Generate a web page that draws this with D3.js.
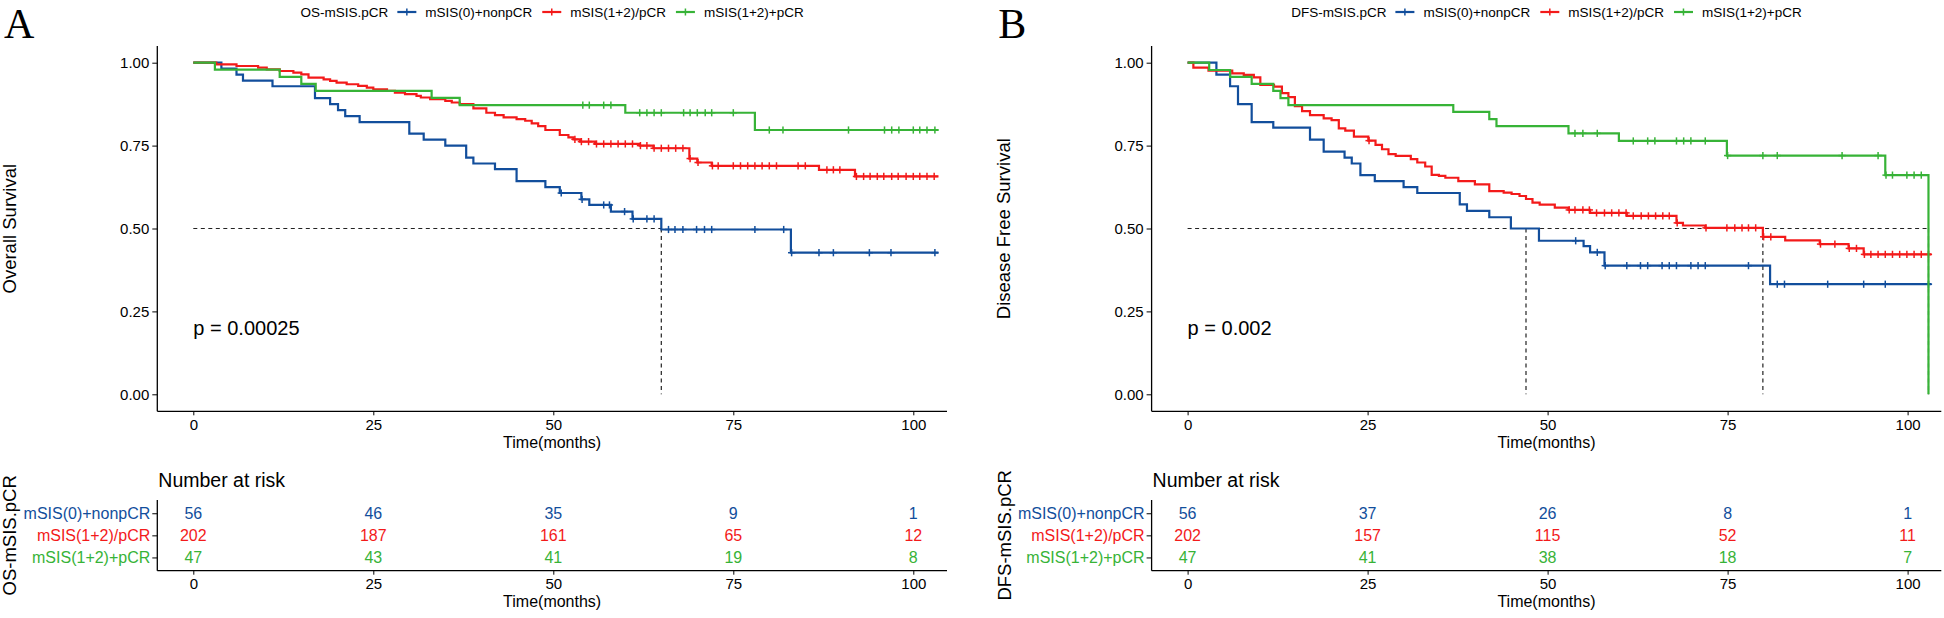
<!DOCTYPE html>
<html><head><meta charset="utf-8">
<script src="https://cdn.jsdelivr.net/npm/d3@7"></script>
<style>
body{margin:0;background:#fff}
svg{display:block}
text{font-family:"Liberation Sans",Arial,Helvetica,sans-serif}
</style>
</head><body>
<svg id="c" width="1944" height="618"></svg>
<script>
// ---------------- DATA ----------------
const groups = ["mSIS(0)+nonpCR", "mSIS(1+2)/pCR", "mSIS(1+2)+pCR"];
const colors = ["#124E9C", "#F31A1A", "#37B337"];
const timeTicks = [0, 25, 50, 75, 100];
const survTicks = [0, 0.25, 0.5, 0.75, 1];

// Panel A : overall survival  ([time, survival after the step])
const osBlueSteps = [[3.9,0.982],[6.0,0.964],[6.9,0.946],[11.0,0.929],[16.9,0.893],[19.0,0.875],[20.1,0.857],[21.1,0.839],[23.1,0.821],[30.0,0.786],[32.0,0.768],[35.0,0.750],[37.9,0.714],[38.9,0.696],[41.9,0.679],[44.9,0.643],[48.9,0.625],[50.9,0.607],[53.9,0.588],[55.0,0.571],[58.0,0.551],[61.0,0.529],[65.0,0.497],[83.0,0.427]];
const osBlueCensor = [51.1,54.0,57.0,57.8,59.9,61.1,63.0,64.0,66.0,66.9,68.0,69.9,71.0,72.0,78.0,82.0,83.1,86.9,88.9,93.9,96.9,103.0];
const osBlueEnd = 103.5;
const osRedSteps = [[3.2,0.995],[6.0,0.990],[9.0,0.985],[10.2,0.980],[12.0,0.975],[13.9,0.970],[15.0,0.965],[16.0,0.955],[18.1,0.950],[19.0,0.945],[19.9,0.940],[21.3,0.935],[22.9,0.930],[24.1,0.925],[25.0,0.920],[26.9,0.915],[28.0,0.910],[29.4,0.905],[31.0,0.900],[31.6,0.895],[32.9,0.890],[35.0,0.885],[35.9,0.880],[37.0,0.875],[38.9,0.862],[40.7,0.849],[41.9,0.842],[43.1,0.835],[44.9,0.830],[46.1,0.825],[47.0,0.817],[47.9,0.809],[48.9,0.797],[50.9,0.782],[52.1,0.775],[52.8,0.769],[53.7,0.762],[55.8,0.755],[62.0,0.750],[63.9,0.742],[68.9,0.711],[70.0,0.699],[72.0,0.689],[86.9,0.677],[91.9,0.657]];
const osRedCensor = [53.0,53.9,54.9,56.0,57.0,58.0,59.0,60.0,61.0,62.1,63.0,64.0,65.0,66.0,67.0,68.0,69.0,70.1,72.1,72.9,75.0,76.0,77.0,78.0,79.0,80.0,81.0,84.0,85.0,88.0,88.9,89.8,92.1,93.1,94.0,95.0,95.9,97.0,97.9,99.0,100.0,100.9,101.9,102.9];
const osRedEnd = 103.5;
const osGreenSteps = [[3.0,0.979],[12.0,0.957],[15.0,0.936],[17.0,0.915],[33.1,0.894],[37.0,0.872],[60.0,0.849],[78.0,0.797]];
const osGreenCensor = [54.1,55.0,57.0,58.0,62.0,63.0,64.0,65.0,68.1,69.0,70.0,71.1,72.0,75.0,80.0,81.9,91.0,96.0,97.0,98.0,100.0,100.9,101.9,103.0];
const osGreenEnd = 103.5;
const osMedians = [65.0];
const osRisk = [[56,46,35,9,1],[202,187,161,65,12],[47,43,41,19,8]];
const osPval = "p = 0.00025";

// Panel B : disease free survival
const dfsBlueSteps = [[4.0,0.964],[5.9,0.929],[7.0,0.875],[8.9,0.821],[11.9,0.804],[17.0,0.768],[18.9,0.732],[21.8,0.714],[22.8,0.696],[24.0,0.661],[26.0,0.643],[30.0,0.625],[31.9,0.607],[37.8,0.573],[38.8,0.553],[41.9,0.534],[44.9,0.500],[48.8,0.463],[55.0,0.447],[55.9,0.428],[57.9,0.388],[80.9,0.332]];
const dfsBlueCensor = [53.9,56.9,58.0,61.0,62.9,63.9,65.9,66.9,67.9,69.9,70.9,71.9,77.9,81.9,82.9,88.9,93.9,96.9,102.9];
const dfsBlueEnd = 103.3;
const dfsRedSteps = [[0.8,0.985],[2.9,0.976],[6.2,0.968],[7.8,0.963],[9.2,0.956],[10.1,0.933],[12.0,0.928],[13.1,0.908],[14.0,0.896],[14.9,0.869],[15.9,0.854],[17.0,0.842],[18.9,0.832],[20.0,0.827],[21.0,0.802],[21.9,0.795],[23.1,0.777],[25.1,0.765],[26.1,0.752],[27.0,0.739],[27.9,0.724],[28.9,0.719],[31.0,0.709],[31.9,0.699],[33.0,0.687],[33.9,0.662],[34.9,0.659],[35.8,0.653],[37.6,0.643],[39.9,0.633],[41.9,0.613],[43.9,0.608],[45.0,0.604],[46.1,0.598],[47.0,0.589],[47.9,0.578],[48.9,0.572],[51.0,0.563],[52.9,0.556],[55.9,0.547],[61.0,0.538],[67.9,0.517],[68.8,0.509],[71.9,0.502],[79.9,0.475],[83.0,0.464],[87.8,0.453],[91.8,0.440],[93.9,0.422]];
const dfsRedCensor = [25.2,53.0,53.8,54.9,55.8,56.8,57.9,58.9,59.9,60.9,61.9,63.0,64.0,65.0,66.0,66.9,68.0,72.0,74.9,76.0,77.0,77.9,78.9,80.0,81.0,87.9,89.9,91.9,92.9,94.0,94.9,95.9,96.9,97.9,98.9,99.9,100.9,101.9,102.9];
const dfsRedEnd = 103.3;
const dfsGreenSteps = [[3.0,0.978],[5.9,0.957],[8.9,0.936],[11.9,0.915],[12.9,0.893],[14.0,0.872],[36.9,0.852],[41.9,0.830],[42.9,0.809],[52.9,0.787],[59.9,0.764],[74.9,0.720],[96.9,0.661],[102.9,0]];
const dfsGreenCensor = [53.8,54.9,56.9,61.9,63.9,64.9,67.9,68.9,69.9,71.9,75.0,79.9,81.9,90.9,95.9,97.0,97.9,99.9,100.9,101.9];
const dfsGreenEnd = 102.9;
const dfsMedians = [47.0, 79.9, 102.9];
const dfsRisk = [[56,37,26,8,1],[202,157,115,52,11],[47,41,38,18,7]];
const dfsPval = "p = 0.002";

// ---------------- DRAW ----------------
const svg = d3.select("#c");
const FONT = '"Liberation Sans",Arial,Helvetica,sans-serif';

function survAt(steps, t){
  let s = 1;
  for (const [ts, v] of steps) { if (ts <= t) s = v; else break; }
  return s;
}

function drawPanel(cfg){
  const g = svg.append("g").attr("transform", `translate(${cfg.dx},0)`);
  const axisLeft = 157.3, axisRight = 947;
  const x = d3.scaleLinear().domain([0, 100]).range([193.3, 913.3]);
  const y = d3.scaleLinear().domain([0, 1]).range([394.3, 62.7]);
  const yTop = y(1.05), yBot = 411.3;

  // panel letter
  g.append("text").attr("x", 4).attr("y", 37.5)
    .style("font-family", '"Liberation Serif","Times New Roman",serif')
    .style("font-size", "42px").style("fill", "#000").text(cfg.letter);

  // legend
  const leg = g.append("g");
  const legY = 12;
  const lt = leg.append("text").attr("y", legY).attr("dy", "0.35em")
    .style("font-size", "13.5px").style("fill", "#000").text(cfg.legendTitle);
  let cx = lt.node().getComputedTextLength() + 9;
  groups.forEach((name, i) => {
    const k = leg.append("g").attr("transform", `translate(${cx},${legY})`);
    k.append("line").attr("x1", 0).attr("x2", 19).attr("y1", 0).attr("y2", 0)
      .attr("stroke", colors[i]).attr("stroke-width", 2.2);
    k.append("line").attr("x1", 9.5).attr("x2", 9.5).attr("y1", -3.5).attr("y2", 3.5)
      .attr("stroke", colors[i]).attr("stroke-width", 1.5);
    cx += 19 + 9;
    const tt = leg.append("text").attr("x", cx).attr("y", legY).attr("dy", "0.35em")
      .style("font-size", "13.5px").style("fill", "#000").text(name);
    cx += tt.node().getComputedTextLength() + 10;
  });
  const legW = cx - 10;
  leg.attr("transform", `translate(${(axisLeft + axisRight) / 2 - legW / 2},0)`);

  // axes main
  const ax = g.append("g");
  ax.append("line").attr("x1", axisLeft).attr("x2", axisLeft).attr("y1", yTop).attr("y2", yBot)
    .attr("stroke", "#000").attr("stroke-width", 1.3);
  ax.append("line").attr("x1", axisLeft).attr("x2", axisRight).attr("y1", yBot).attr("y2", yBot)
    .attr("stroke", "#000").attr("stroke-width", 1.3);
  const yAxis = d3.axisLeft(y).tickValues(survTicks).tickFormat(d3.format(".2f")).tickSize(5).tickPadding(3);
  const yg = g.append("g").attr("transform", `translate(${axisLeft},0)`).call(yAxis);
  yg.select(".domain").remove();
  yg.selectAll("text").style("font-size", "15px").style("font-family", FONT).style("fill", "#000");
  yg.selectAll("line").attr("stroke", "#000");
  const xAxis = d3.axisBottom(x).tickValues(timeTicks).tickSize(4).tickPadding(4);
  const xg = g.append("g").attr("transform", `translate(0,${yBot})`).call(xAxis);
  xg.select(".domain").remove();
  xg.selectAll("text").style("font-size", "15px").style("font-family", FONT).style("fill", "#000");
  xg.selectAll("line").attr("stroke", "#000");

  g.append("text").attr("x", (axisLeft + axisRight) / 2).attr("y", 448)
    .attr("text-anchor", "middle").style("font-size", "16px").style("fill", "#000").text("Time(months)");
  g.append("text").attr("transform", `translate(9.5,${(yTop + yBot) / 2}) rotate(-90)`)
    .attr("text-anchor", "middle").attr("dy", "0.35em").style("font-size", "18.5px").style("fill", "#000").text(cfg.yTitle);

  // median lines
  const maxMed = d3.max(cfg.medians);
  const med = g.append("g").attr("stroke", "#222").attr("stroke-width", 1.2).attr("stroke-dasharray", "4,3.5").attr("fill", "none");
  med.append("line").attr("x1", x(0)).attr("x2", x(maxMed)).attr("y1", y(0.5)).attr("y2", y(0.5));
  cfg.medians.forEach(m => {
    med.append("line").attr("x1", x(m)).attr("x2", x(m)).attr("y1", y(0.5)).attr("y2", y(0));
  });

  // curves
  const line = d3.line().x(d => x(d[0])).y(d => y(d[1])).curve(d3.curveStepAfter);
  cfg.series.forEach((s, i) => {
    const pts = [[0, 1], ...s.steps];
    const last = s.steps[s.steps.length - 1];
    if (s.end > last[0]) pts.push([s.end, last[1]]);
    g.append("path").attr("d", line(pts)).attr("fill", "none")
      .attr("stroke", colors[i]).attr("stroke-width", 2.2).attr("stroke-linejoin", "miter");
    const cg = g.append("g").attr("stroke", colors[i]).attr("stroke-width", 1.5);
    s.censor.forEach(t => {
      const cxp = x(t), cyp = y(survAt(s.steps, t));
      cg.append("line").attr("x1", cxp).attr("x2", cxp).attr("y1", cyp - 3.6).attr("y2", cyp + 3.6);
      cg.append("line").attr("x1", cxp - 3.6).attr("x2", cxp + 3.6).attr("y1", cyp).attr("y2", cyp);
    });
  });

  // p value
  g.append("text").attr("x", x(0)).attr("y", y(0.2)).attr("dy", "0.35em")
    .style("font-size", "20px").style("fill", "#000").text(cfg.pval);

  // risk table
  const rTop = 500, rBot = 570.7;
  const yr = d3.scalePoint().domain(groups).range([rTop, rBot]).padding(0.6);
  g.append("text").attr("x", axisLeft + 1).attr("y", 486.5).style("font-size", "19.5px").style("fill", "#000").text("Number at risk");
  g.append("line").attr("x1", axisLeft).attr("x2", axisLeft).attr("y1", rTop).attr("y2", rBot)
    .attr("stroke", "#000").attr("stroke-width", 1.3);
  g.append("line").attr("x1", axisLeft).attr("x2", axisRight).attr("y1", rBot).attr("y2", rBot)
    .attr("stroke", "#000").attr("stroke-width", 1.3);
  const ryg = g.append("g").attr("transform", `translate(${axisLeft},0)`)
    .call(d3.axisLeft(yr).tickSize(5).tickPadding(2));
  ryg.select(".domain").remove();
  ryg.selectAll("line").attr("stroke", "#000");
  ryg.selectAll("text").style("font-size", "16px").style("font-family", FONT)
    .style("fill", d => colors[groups.indexOf(d)]);
  const rxg = g.append("g").attr("transform", `translate(0,${rBot})`)
    .call(d3.axisBottom(x).tickValues(timeTicks).tickSize(4).tickPadding(4));
  rxg.select(".domain").remove();
  rxg.selectAll("line").attr("stroke", "#000");
  rxg.selectAll("text").style("font-size", "15px").style("font-family", FONT).style("fill", "#000");
  g.append("text").attr("x", (axisLeft + axisRight) / 2).attr("y", 607)
    .attr("text-anchor", "middle").style("font-size", "16px").style("fill", "#000").text("Time(months)");
  g.append("text").attr("transform", `translate(10,${(rTop + rBot) / 2}) rotate(-90)`)
    .attr("text-anchor", "middle").attr("dy", "0.35em").style("font-size", "18.5px").style("fill", "#000").text(cfg.riskTitle);
  cfg.risk.forEach((row, i) => {
    row.forEach((n, j) => {
      g.append("text").attr("x", x(timeTicks[j])).attr("y", yr(groups[i])).attr("dy", "0.35em")
        .attr("text-anchor", "middle").style("font-size", "16px").style("fill", colors[i]).text(n);
    });
  });
}

drawPanel({
  dx: 0, letter: "A", legendTitle: "OS-mSIS.pCR", yTitle: "Overall Survival", riskTitle: "OS-mSIS.pCR",
  pval: osPval, medians: osMedians, risk: osRisk,
  series: [
    {steps: osBlueSteps, censor: osBlueCensor, end: osBlueEnd},
    {steps: osRedSteps, censor: osRedCensor, end: osRedEnd},
    {steps: osGreenSteps, censor: osGreenCensor, end: osGreenEnd}
  ]
});
drawPanel({
  dx: 994.3, letter: "B", legendTitle: "DFS-mSIS.pCR", yTitle: "Disease Free Survival", riskTitle: "DFS-mSIS.pCR",
  pval: dfsPval, medians: dfsMedians, risk: dfsRisk,
  series: [
    {steps: dfsBlueSteps, censor: dfsBlueCensor, end: dfsBlueEnd},
    {steps: dfsRedSteps, censor: dfsRedCensor, end: dfsRedEnd},
    {steps: dfsGreenSteps, censor: dfsGreenCensor, end: dfsGreenEnd}
  ]
});
</script>
</body></html>
